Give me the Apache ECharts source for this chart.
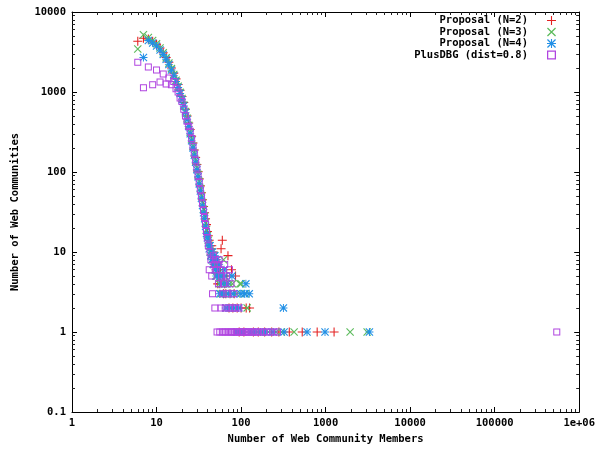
<!DOCTYPE html>
<html>
<head>
<meta charset="utf-8">
<script src="https://cdn.jsdelivr.net/npm/echarts@6/dist/echarts.min.js"></script>
<style>
  html, body { margin: 0; padding: 0; background: #fff; }
  #chart { width: 598px; height: 450px; }
</style>
</head>
<body>
<div id="chart"></div>
<script>
// values: [community size, number of communities]
var seriesNames = ['Proposal (N=2)', 'Proposal (N=3)', 'Proposal (N=4)', 'PlusDBG (dist=0.8)'];

var n2Points = [
  [6,4300],[7,4700],[8,4600],[9,4300],[10,3950],[11,3550],[12,3100],[13,2700],[14,2350],[15,2000],
  [16,1720],[17,1460],[18,1240],[19,1050],[20,880],[21,740],[22,610],[23,500],[24,410],[25,340],
  [26,280],[27,230],[28,188],[29,152],[30,124],[31,101],[32,82],[33,67],[34,55],[35,45],
  [36,37],[37,31],[38,26],[39,22],[40,18],[41,16],[42,14],[43,12],[44,11],[45,12],
  [46,9],[47,10],[48,8],[49,7],[50,8],[51,6],[52,7],[53,4],[54,6],[55,5],
  [56,4],[57,6],[58,11],[60,14],[61,5],[62,3],[64,4],[66,3],[68,5],[70,9],
  [72,2],[74,3],[77,6],[80,2],[83,3],[86,5],[90,2],[95,1],[100,2],[108,1],
  [115,2],[126,2],[140,1],[160,1],[190,1],[230,1],[280,1],[372,1],[529,1],[795,1],[1260,1]
];
var n3Points = [
  [6,3450],[7,5200],[8,4800],[9,4400],[10,4000],[11,3550],[12,3100],[13,2680],[14,2300],[15,1960],
  [16,1660],[17,1400],[18,1180],[19,990],[20,830],[21,690],[22,570],[23,470],[24,385],[25,315],
  [26,258],[27,210],[28,172],[29,140],[30,114],[31,93],[32,76],[33,62],[34,50],[35,41],
  [36,34],[37,28],[38,23],[39,19],[40,16],[41,14],[42,12],[43,10],[44,9],[45,10],
  [46,8],[47,7],[48,9],[49,6],[50,5],[51,7],[52,5],[54,6],[55,4],[57,5],
  [58,3],[60,4],[62,8],[63,3],[65,4],[67,2],[70,3],[73,4],[76,2],[79,4],
  [84,2],[88,3],[92,1],[97,4],[100,4],[105,1],[112,3],[118,2],[135,1],[155,1],
  [175,1],[210,1],[260,1],[300,1],[424,1],[1950,1],[3100,1]
];
var n4Points = [
  [7,2700],[8,4400],[9,4100],[10,3750],[11,3350],[12,2950],[13,2560],[14,2200],[15,1880],[16,1600],
  [17,1350],[18,1140],[19,960],[20,800],[21,670],[22,550],[23,450],[24,370],[25,300],[26,245],
  [27,200],[28,162],[29,132],[30,107],[31,87],[32,71],[33,58],[34,47],[35,38],[36,31],
  [37,26],[38,21],[39,17],[40,15],[41,13],[42,11],[43,12],[44,9],[45,8],[46,10],
  [47,7],[48,8],[49,9],[50,6],[51,5],[52,8],[53,6],[55,7],[56,3],[57,5],
  [59,4],[61,3],[63,6],[64,5],[66,2],[68,4],[71,3],[74,2],[78,5],[81,3],
  [85,2],[89,1],[94,2],[99,3],[104,1],[110,3],[114,4],[125,3],[128,1],[145,1],
  [170,1],[195,1],[240,1],[317,2],[323,1],[603,1],[984,1],[3300,1]
];
var plusDbgPoints = [
  [6,2350],[7,1130],[8,2050],[9,1230],[10,1880],[11,1330],[12,1680],[13,1260],[14,1500],[15,1230],
  [16,1350],[17,1100],[18,1000],[19,840],[20,760],[21,610],[22,500],[23,430],[24,370],[25,322],
  [26,262],[27,210],[28,172],[29,140],[30,112],[31,90],[32,74],[33,60],[34,49],[35,40],
  [36,33],[37,27],[38,22],[39,18],[40,15],[41,12],[42,6],[43,10],[44,8],[45,5],
  [46,3],[47,9],[48,7],[49,2],[50,8],[51,6],[52,1],[53,7],[54,4],[55,8],
  [56,1],[57,6],[58,2],[59,5],[60,1],[61,3],[62,4],[63,1],[64,7],[65,2],
  [66,1],[67,5],[68,3],[70,1],[72,2],[73,6],[74,1],[76,4],[77,1],[79,2],
  [80,1],[82,3],[84,1],[86,2],[88,1],[91,1],[94,2],[97,1],[100,1],[104,1],
  [108,1],[112,1],[117,1],[122,1],[128,1],[135,1],[142,1],[150,1],[160,1],[172,1],
  [185,1],[200,1],[220,1],[245,1],[270,1],[543000,1]
];

var xTickLabels = ['1', '10', '100', '1000', '10000', '100000', '1e+06'];
var yTickLabels = ['0.1', '1', '10', '100', '1000', '10000'];
var minorSteps = [2, 3, 4, 5, 6, 7, 8, 9];

// gnuplot style point types
var plusPath = 'M4.4,0h1.2v10h-1.2z M0,4.4h10v1.2h-10z';
var crossPath = 'M0,1L1,0L10,9L9,10Z M9,0L10,1L1,10L0,9Z';
var squarePath = 'M0,0h10v10h-10z M1.4,1.4v7.2h7.2v-7.2z';

var font = 'DejaVu Sans Mono';
var textBase = { fontFamily: font, fontWeight: 'bold', fontSize: 10.5, color: '#000' };

// minor tick positions, in decades (log10)
function minorLog(fromDec, toDec) {
  var out = [];
  for (var d = fromDec; d < toDec; d++) {
    for (var i = 0; i < minorSteps.length; i++) {
      out.push(d + Math.log10(minorSteps[i]));
    }
  }
  return out;
}

function logAxis(pos, min, max, labels, extra) {
  var ax = {
    type: 'log', logBase: 10, min: min, max: max, position: pos,
    axisLine: { show: true, onZero: false, lineStyle: { color: '#000', width: 1 } },
    axisTick: { show: true, inside: true, length: 5, lineStyle: { color: '#000' } },
    axisLabel: { show: false },
    splitLine: { show: false }
  };
  if (labels) {
    ax.axisLabel = Object.assign({ show: true, interval: 0, margin: 6, formatter: labels }, textBase);
  }
  return Object.assign(ax, extra || {});
}

function minorAxis(pos, min, max) {
  return {
    type: 'value', min: min, max: max, position: pos,
    axisLine: { show: false, onZero: false },
    axisTick: { show: true, inside: true, length: 3, customValues: minorLog(min, max), lineStyle: { color: '#222' } },
    axisLabel: { show: false },
    splitLine: { show: false }
  };
}

function scatter(name, points, path, size, color) {
  return {
    name: name, type: 'scatter', data: points,
    xAxisIndex: 0, yAxisIndex: 0,
    symbol: 'path://' + path, symbolSize: size,
    itemStyle: { color: color, borderWidth: 0, opacity: 1 },
    emphasis: { disabled: true }
  };
}

var chart = echarts.init(document.getElementById('chart'), null, { renderer: 'canvas' });
chart.setOption({
  animation: false,
  backgroundColor: '#fff',
  grid: { left: 72, right: 17, top: 12, bottom: 37, containLabel: false },
  legend: {
    data: seriesNames,
    orient: 'vertical',
    right: 37, top: 10,
    align: 'right',
    itemWidth: 9, itemHeight: 9, itemGap: 0.5,
    selectedMode: false,
    textStyle: Object.assign({ padding: [0, 14, 0, 0], lineHeight: 11 }, textBase)
  },
  xAxis: [
    logAxis('bottom', 1, 1e6, function (v) { return xTickLabels[Math.round(Math.log10(v))]; }, {
      name: 'Number of Web Community Members', nameLocation: 'middle', nameGap: 22,
      nameTextStyle: textBase
    }),
    logAxis('top', 1, 1e6, null),
    minorAxis('bottom', 0, 6),
    minorAxis('top', 0, 6)
  ],
  yAxis: [
    logAxis('left', 0.1, 10000, function (v) { return yTickLabels[Math.round(Math.log10(v)) + 1]; }, {
      name: 'Number of Web Communities', nameLocation: 'middle', nameGap: 51, nameRotate: 90,
      nameTextStyle: textBase
    }),
    logAxis('right', 0.1, 10000, null),
    minorAxis('left', -1, 4),
    minorAxis('right', -1, 4)
  ],
  series: [
    scatter(seriesNames[0], n2Points, plusPath, 9, '#e42222'),
    scatter(seriesNames[1], n3Points, crossPath, 8, '#5dbb5d'),
    scatter(seriesNames[2], n4Points, plusPath + ' ' + crossPath, 8, '#2290e6'),
    scatter(seriesNames[3], plusDbgPoints, squarePath, 7, '#b044e0')
  ]
});
</script>
</body>
</html>
